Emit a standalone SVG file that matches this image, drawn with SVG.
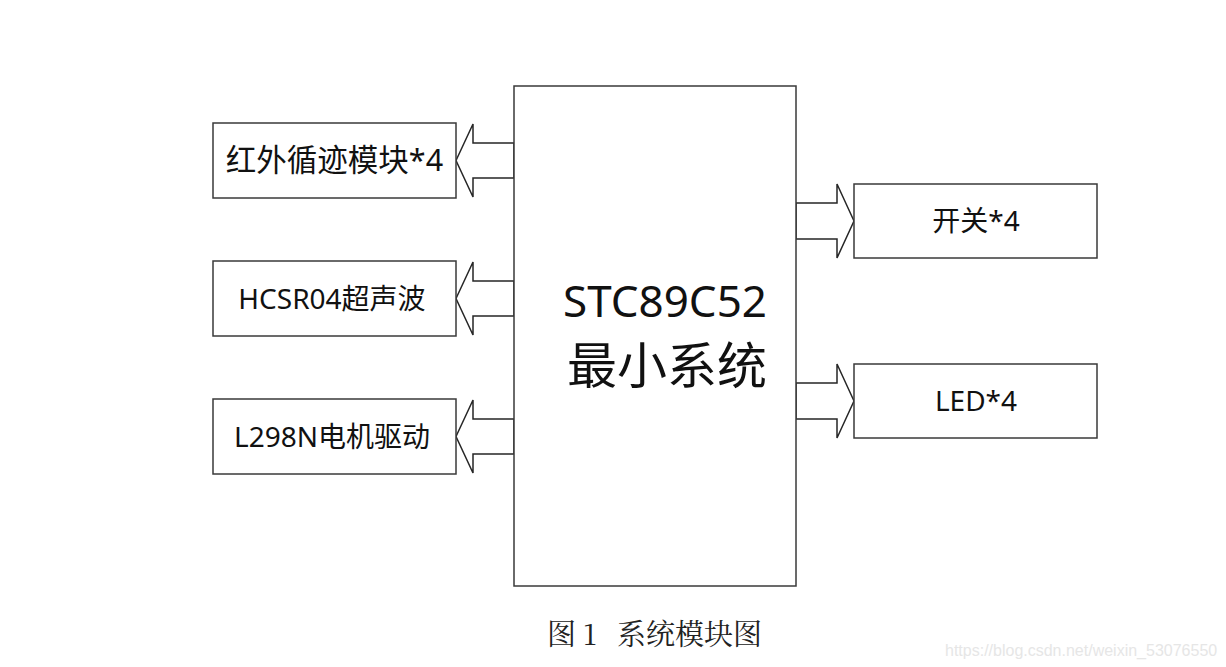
<svg xmlns="http://www.w3.org/2000/svg" width="1226" height="667" viewBox="0 0 1226 667">
<style>
.box{fill:#fff;stroke:#3a3a3a;stroke-width:1.5}
.arr{fill:#fff;stroke:#262626;stroke-width:1.5;stroke-linejoin:miter}
.lbl{font-family:"Noto Sans","Noto Sans CJK SC",sans-serif;font-size:28px;fill:#111;text-anchor:middle}
.main{font-family:"Noto Sans","Noto Sans CJK SC",sans-serif;fill:#111;text-anchor:middle}
.cap{font-family:"Noto Serif CJK SC","Liberation Serif","Noto Sans CJK SC",serif;font-size:29px;fill:#222}
.wm{font-family:"Liberation Sans",Arial,sans-serif;font-size:16px;fill:#e6e6e6}
</style>
<rect width="1226" height="667" fill="#fff"/>
<g id="connectors">
<polygon class="arr" points="456,160.5 473,124 473,143 514,143 514,178 473,178 473,197"/>
<polygon class="arr" points="456,298.5 473,262 473,281 514,281 514,316 473,316 473,335"/>
<polygon class="arr" points="456,436.5 473,400 473,419 514,419 514,454 473,454 473,473"/>
<polygon class="arr" points="854,221 837,184 837,203 796,203 796,239 837,239 837,258"/>
<polygon class="arr" points="854,401 837,364 837,383 796,383 796,419 837,419 837,438"/>
</g>
<g id="mcu">
<rect class="box" x="514" y="86" width="282" height="500"/>
<text class="main" x="665" y="317" font-size="44">STC89C52</text>
<text class="main" x="667" y="384" font-size="50">最小系统</text>
</g>
<g id="ir">
<rect class="box" x="213" y="123" width="243" height="75"/>
<text class="lbl" x="334.5" y="171" style="font-size:30.5px">红外循迹模块*4</text>
</g>
<g id="hcsr04">
<rect class="box" x="213" y="261" width="243" height="75"/>
<text class="lbl" x="332" y="309">HCSR04超声波</text>
</g>
<g id="l298n">
<rect class="box" x="213" y="399" width="243" height="75"/>
<text class="lbl" x="332" y="447">L298N电机驱动</text>
</g>
<g id="switch">
<rect class="box" x="854" y="184" width="243" height="74"/>
<text class="lbl" x="976" y="231">开关*4</text>
</g>
<g id="led">
<rect class="box" x="854" y="364" width="243" height="74"/>
<text class="lbl" x="976" y="411">LED*4</text>
</g>
<text class="cap" y="645"><tspan x="547">图</tspan><tspan x="583">1</tspan><tspan x="617">系统模块图</tspan></text>
<text class="wm" x="945" y="656">https://blog.csdn.net/weixin_53076550</text>
</svg>
